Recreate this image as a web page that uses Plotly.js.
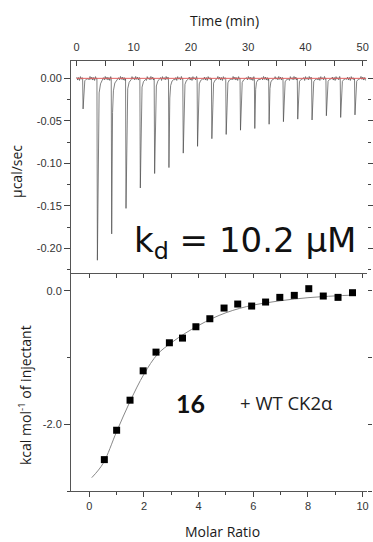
<!DOCTYPE html>
<html>
<head>
<meta charset="utf-8">
<script src="https://cdn.plot.ly/plotly-3.0.1.min.js"></script>
<style>html,body{margin:0;padding:0;background:#fff;}#chart{width:373px;height:542px;}</style>
</head>
<body>
<div id="chart"></div>
<script>
// ---------- data ----------
// Top panel: raw thermogram (injection times in min, peak heat rates in µcal/sec)
const injTime = [1.1, 3.6, 6.1, 8.6, 11.1, 13.6, 16.1, 18.6, 21.1, 23.6, 26.1, 28.6, 31.1, 33.6, 36.1, 38.6, 41.1, 43.6, 46.1, 48.6];
const injPeak = [-0.036, -0.214, -0.183, -0.153, -0.129, -0.112, -0.105, -0.088, -0.080, -0.071, -0.066, -0.061, -0.059, -0.054, -0.051, -0.048, -0.049, -0.044, -0.046, -0.043];
const baselineNoise = [0.0015, -0.002, 0.001, -0.0025, 0.002, -0.001, 0.0008, -0.0018, 0.0022, -0.0012];
const baselineTime = [0, 50.6];
const baselineValue = [0, 0];

// Bottom panel: integrated heats
const molarRatio = [0.55, 1.00, 1.49, 1.97, 2.44, 2.93, 3.41, 3.90, 4.41, 4.93, 5.43, 5.94, 6.45, 6.97, 7.50, 8.03, 8.56, 9.10, 9.63];
const heat = [-2.53, -2.09, -1.64, -1.20, -0.92, -0.78, -0.71, -0.54, -0.42, -0.26, -0.20, -0.23, -0.17, -0.10, -0.07, 0.03, -0.08, -0.10, -0.03];
const fitRatio = [0.09, 0.5, 1.0, 1.5, 2.0, 2.5, 3.0, 3.5, 4.0, 4.5, 5.0, 5.5, 6.0, 6.5, 7.0, 7.5, 8.0, 8.5, 9.0, 9.63];
const fitHeat = [-2.80, -2.59, -2.11, -1.65, -1.25, -0.95, -0.78, -0.64, -0.52, -0.415, -0.33, -0.265, -0.215, -0.18, -0.15, -0.125, -0.105, -0.09, -0.078, -0.066];

// Tick labels
const timeTicks = [0, 10, 20, 30, 40, 50];
const timeTickText = ["0", "10", "20", "30", "40", "50"];
const powerTickVals = [0, -0.05, -0.10, -0.15, -0.20];
const powerTickText = ["0.00", "-0.05", "-0.10", "-0.15", "-0.20"];
const ratioTicks = [0, 2, 4, 6, 8, 10];
const ratioTickText = ["0", "2", "4", "6", "8", "10"];
const heatTickVals = [0, -2];
const heatTickText = ["0.0", "-2.0"];

// ---------- build the thermogram polyline from the read peaks ----------
const tx = [], ty = [];
let nIdx = 0;
function noisePts(from, to) {
  for (let t = from; t < to; t += 0.16) {
    tx.push(t); ty.push(baselineNoise[nIdx % baselineNoise.length]); nIdx++;
  }
}
noisePts(0.05, injTime[0] - 0.05);
for (let i = 0; i < injTime.length; i++) {
  const t = injTime[i], d = injPeak[i];
  tx.push(t - 0.03); ty.push(0);
  tx.push(t + 0.05); ty.push(d);
  tx.push(t + 0.2); ty.push(d * 0.22);
  tx.push(t + 0.35); ty.push(d * 0.08);
  tx.push(t + 0.6); ty.push(d * 0.03);
  tx.push(t + 0.95); ty.push(d * 0.01);
  const next = i + 1 < injTime.length ? injTime[i + 1] - 0.05 : 50.5;
  noisePts(t + 1.1, next);
}

// ---------- geometry helpers (pixels -> paper) ----------
const L = 71, R = 367, T = 61, B = 491, SPLIT = 274;
const px = v => (v - L) / (R - L);
const py = v => (B - v) / (B - T);
const split = py(SPLIT);

const tickFont = {family: "Liberation Sans, Arial, sans-serif", size: 11, color: "#333"};
const lineCol = "#555", tickCol = "#444";
const common = {showgrid: false, zeroline: false, linecolor: lineCol, linewidth: 1, tickcolor: tickCol, tickwidth: 1, tickfont: tickFont};

const traces = [
  {x: tx, y: ty, xaxis: "x", yaxis: "y", mode: "lines", line: {color: "#4a4a4a", width: 0.7}, hoverinfo: "skip"},
  {x: baselineTime, y: baselineValue, xaxis: "x", yaxis: "y", mode: "lines", line: {color: "#e06060", width: 1}, hoverinfo: "skip"},
  {x: fitRatio, y: fitHeat, xaxis: "x2", yaxis: "y2", mode: "lines", line: {color: "#888", width: 1, shape: "spline"}},
  {x: molarRatio, y: heat, xaxis: "x2", yaxis: "y2", mode: "markers", marker: {symbol: "square", size: 7, color: "#000"}},
  {x: [], y: [], xaxis: "x3", yaxis: "y2", mode: "markers"},
  {x: [], y: [], xaxis: "x", yaxis: "y3", mode: "markers"},
  {x: [], y: [], xaxis: "x2", yaxis: "y4", mode: "markers"}
];

function label(text, cx, cy, font, extra) {
  return Object.assign({text: text, xref: "paper", yref: "paper", x: px(cx), y: py(cy),
    xanchor: "center", yanchor: "middle", showarrow: false, font: font}, extra || {});
}
const titleFont = {family: "Open Sans, sans-serif", size: 14, color: "#1a1a1a"};

const layout = {
  width: 373, height: 542,
  margin: {l: L, r: 373 - R, t: T, b: 542 - B, pad: 0},
  paper_bgcolor: "#fff", plot_bgcolor: "#fff",
  showlegend: false,
  xaxis: Object.assign({}, common, {
    domain: [0, 1], anchor: "y", side: "top", range: [-0.96, 50.75],
    tickmode: "array", tickvals: timeTicks, ticktext: timeTickText,
    ticks: "inside", ticklen: 5, showline: true, ticklabelstandoff: 5,
    minor: {tickmode: "array", tickvals: [5, 15, 25, 35, 45], ticks: "inside", ticklen: 5, tickcolor: tickCol}
  }),
  yaxis: Object.assign({}, common, {
    domain: [split, 1], anchor: "x", range: [-0.2302, 0.0204],
    tickmode: "array", tickvals: powerTickVals, ticktext: powerTickText,
    ticks: "outside", ticklen: 6, showline: true,
    minor: {tickmode: "array", tickvals: [-0.025, -0.075, -0.125, -0.175, -0.225], ticks: "outside", ticklen: 3, tickcolor: tickCol}
  }),
  yaxis3: Object.assign({}, common, {
    overlaying: "y", anchor: "x", side: "right", range: [-0.2302, 0.0204],
    tickmode: "array", tickvals: powerTickVals, ticks: "outside", ticklen: 5,
    showticklabels: false, showline: false,
    minor: {tickmode: "array", tickvals: [-0.025, -0.075, -0.125, -0.175, -0.225], ticks: "outside", ticklen: 3, tickcolor: tickCol}
  }),
  xaxis2: Object.assign({}, common, {
    domain: [0, 1], anchor: "y2", range: [-0.67, 10.16],
    tickmode: "array", tickvals: ratioTicks, ticktext: ratioTickText,
    ticks: "outside", ticklen: 5, showline: true,
    minor: {tickmode: "array", tickvals: [1, 3, 5, 7, 9], ticks: "outside", ticklen: 3, tickcolor: tickCol}
  }),
  xaxis3: Object.assign({}, common, {
    overlaying: "x2", anchor: "y2", side: "top", range: [-0.67, 10.16],
    tickmode: "array", tickvals: [0, 1, 2, 3, 4, 5, 6, 7, 8, 9, 10],
    ticks: "inside", ticklen: 4, showticklabels: false, showline: true
  }),
  yaxis2: Object.assign({}, common, {
    domain: [0, split], anchor: "x2", range: [-3.0, 0.25],
    tickmode: "array", tickvals: heatTickVals, ticktext: heatTickText,
    ticks: "outside", ticklen: 6, showline: true,
    minor: {tickmode: "array", tickvals: [-1, -3], ticks: "outside", ticklen: 3, tickcolor: tickCol}
  }),
  yaxis4: Object.assign({}, common, {
    overlaying: "y2", anchor: "x2", side: "right", range: [-3.0, 0.25],
    tickmode: "array", tickvals: [0, -1, -2, -3], ticks: "outside", ticklen: 4,
    showticklabels: false, showline: false
  }),
  annotations: [
    label("Time (min)", 224, 20, titleFont),
    label("µcal/sec", 17, 172, titleFont, {textangle: -90}),
    label("k<sub>d</sub> = 10.2 µM", 358, 242, {family: "DejaVu Sans, sans-serif", size: 34, color: "#111"}, {xanchor: "right"}),
    label("16", 190, 403, {family: "Lato, sans-serif", size: 25, color: "#111", weight: "bold"}),
    label("+ WT CK2α", 286, 402, {family: "Open Sans, sans-serif", size: 18.5, color: "#222"}),
    label("kcal mol<sup>-1</sup> of injectant", 25, 395, titleFont, {textangle: -90}),
    label("Molar Ratio", 222, 531, titleFont)
  ]
};

Plotly.newPlot("chart", traces, layout, {staticPlot: true, displayModeBar: false});
</script>
</body>
</html>
